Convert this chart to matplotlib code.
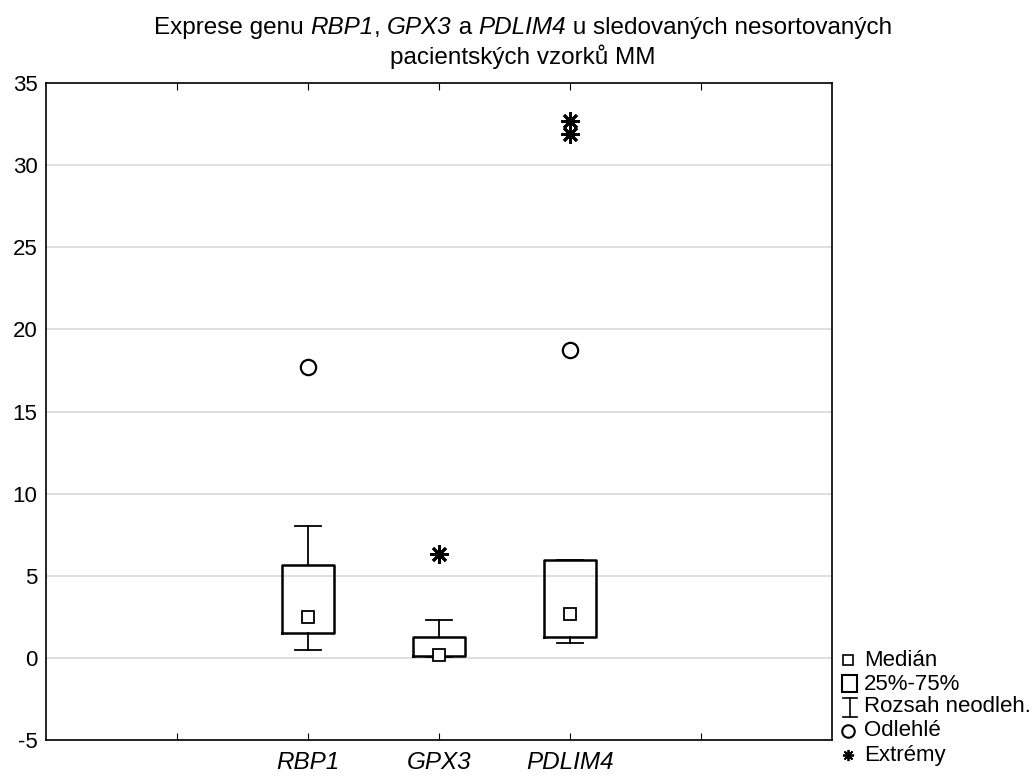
import numpy as np
import matplotlib
matplotlib.use('Agg')
import matplotlib.pyplot as plt
from matplotlib.lines import Line2D
from matplotlib.patches import Rectangle

plt.rcParams['font.family'] = ['Liberation Sans', 'DejaVu Sans']

genes = ['RBP1', 'GPX3', 'PDLIM4']
positions = [2, 3, 4]
q1 = [1.52, 0.12, 1.30]
q3 = [5.66, 1.30, 5.95]
medians = [2.48, 0.18, 2.70]
whis_lo = [0.50, 0.04, 0.89]
whis_hi = [8.00, 2.33, 5.95]
outliers = [[17.7], [], [18.75]]
extremes = [[], [6.33], [32.7, 31.9]]

fig = plt.figure(figsize=(10.35, 7.76), dpi=100)
ax = fig.add_axes([0.0444, 0.0464, 0.7595, 0.8466])

stats = []
for i in range(3):
    stats.append(dict(med=medians[i], q1=q1[i], q3=q3[i],
                      whislo=whis_lo[i], whishi=whis_hi[i], fliers=[]))

ax.bxp(stats, positions=positions, widths=0.39, showfliers=False,
       boxprops=dict(color='black', lw=1.8),
       whiskerprops=dict(color='black', lw=1.3),
       capprops=dict(color='black', lw=1.3),
       medianprops=dict(lw=0),
       capwidths=0.2, manage_ticks=False)

ax.plot(positions, medians, ls='none', marker='s', ms=8, mfc='white',
        mec='black', mew=1.3, zorder=5)
for p, vals in zip(positions, outliers):
    ax.plot([p] * len(vals), vals, ls='none', marker='o', ms=11,
            mfc='none', mec='black', mew=1.6)
for p, vals in zip(positions, extremes):
    ax.plot([p] * len(vals), vals, ls='none', marker=(8, 2, 0), ms=13,
            mec='black', mew=2)

ax.set_xlim(0, 6)
ax.set_ylim(-5, 35)
ax.set_yticks(np.arange(-5, 36, 5))
ax.set_yticklabels([str(v) for v in range(-5, 36, 5)], fontsize=16)
ax.set_xticks([1, 2, 3, 4, 5])
ax.set_xticklabels(['', 'RBP1', 'GPX3', 'PDLIM4', ''], fontsize=17.5,
                   style='italic')
ax.tick_params(axis='x', direction='in', length=5, top=True, pad=8)
ax.tick_params(axis='y', length=0, pad=6)
ax.yaxis.grid(True, color='#d9d9d9', lw=1.2)
ax.set_axisbelow(True)
for s in ax.spines.values():
    s.set_linewidth(1.2)

# title built from pieces so the gene names can be italic
pieces = [('Exprese genu ', 'normal'), ('RBP1', 'italic'), (', ', 'normal'),
          ('GPX3', 'italic'), (' a ', 'normal'), ('PDLIM4', 'italic'),
          (' u sledovaných nesortovaných', 'normal')]
fig.canvas.draw()
renderer = fig.canvas.get_renderer()
widths = []
tmp = []
for txt, st in pieces:
    t = fig.text(0, 0, txt, fontsize=17.5, style=st)
    widths.append(t.get_window_extent(renderer).width)
    tmp.append(t)
total = sum(widths)
x0 = 523 - total / 2.0
for t, w in zip(tmp, widths):
    t.set_position((x0 / 1035.0, 1 - 28 / 776.0))
    t.set_va('center')
    x0 += w
fig.text(523 / 1035.0, 1 - 57 / 776.0, 'pacientských vzorků MM', ha='center',
         va='center', fontsize=17.5)

# legend drawn manually
def fx(px):
    return px / 1035.0

def fy(py):
    return 1 - py / 776.0

labels = ['Medián', '25%-75%', 'Rozsah neodleh.', 'Odlehlé', 'Extrémy']
ys = [660, 684, 707, 731, 755]
for lab, y in zip(labels, ys):
    fig.text(fx(864), fy(y), lab, fontsize=16, va='center', ha='left')

fig.add_artist(Line2D([fx(848)], [fy(660)], marker='s', ms=7, mfc='white',
                      mec='black', mew=1.2, ls='none'))
fig.add_artist(Rectangle((fx(842), fy(692)), fx(15), 17 / 776.0, fill=False,
                         ec='black', lw=1.5))
fig.add_artist(Line2D([fx(850), fx(850)], [fy(698), fy(717)], color='black', lw=1.2))
fig.add_artist(Line2D([fx(843), fx(857)], [fy(698), fy(698)], color='black', lw=1.2))
fig.add_artist(Line2D([fx(843), fx(857)], [fy(717), fy(717)], color='black', lw=1.2))
fig.add_artist(Line2D([fx(848)], [fy(731)], marker='o', ms=9, mfc='none',
                      mec='black', mew=1.5, ls='none'))
fig.add_artist(Line2D([fx(848)], [fy(755)], marker=(8, 2, 0), ms=8,
                      mec='black', mew=1.3, ls='none'))

plt.savefig('out.png', dpi=100)
